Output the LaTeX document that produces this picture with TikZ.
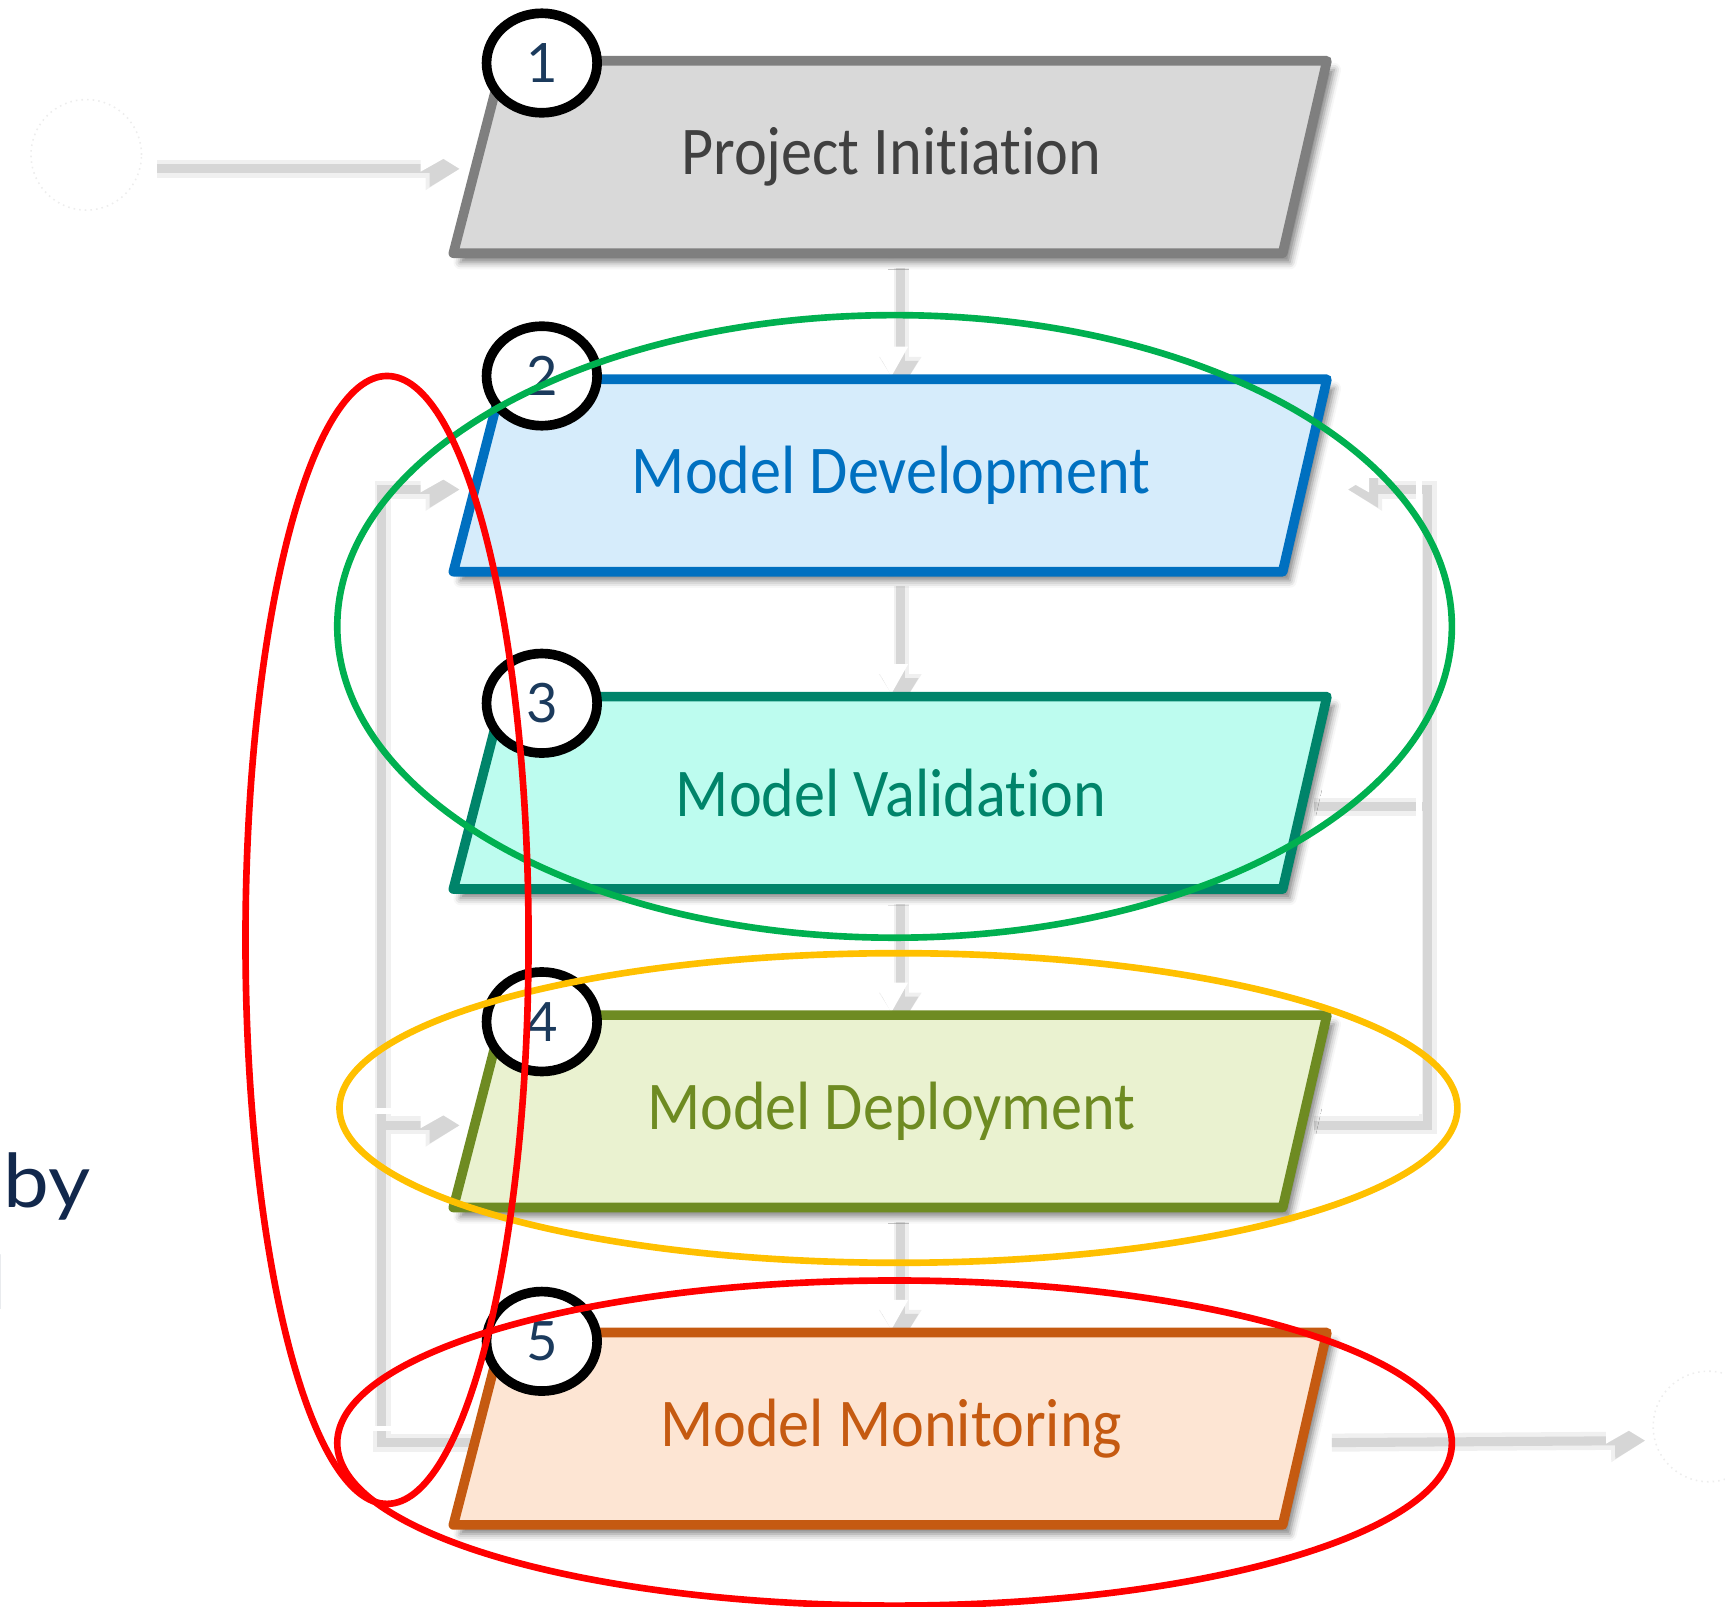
\documentclass[tikz,border=0pt]{standalone}
\usepackage{fontspec}
\setmainfont{Carlito}[Ligatures=NoCommon]
\newfontfamily\numfont{Lato}
\usetikzlibrary{arrows.meta,shapes.geometric,shadows.blur,backgrounds}
\definecolor{piF}{HTML}{D9D9D9}\definecolor{piD}{HTML}{7F7F7F}\definecolor{piT}{HTML}{404040}
\definecolor{mdF}{HTML}{D6ECFB}\definecolor{mdD}{HTML}{0070C0}
\definecolor{mvF}{HTML}{BDFCEF}\definecolor{mvD}{HTML}{00846A}
\definecolor{dpF}{HTML}{EAF2D0}\definecolor{dpD}{HTML}{6E8B22}
\definecolor{mmF}{HTML}{FDE5D3}\definecolor{mmD}{HTML}{C55A11}
\definecolor{navy}{HTML}{1B3A5C}\definecolor{sidenavy}{HTML}{12284C}
\definecolor{ringG}{HTML}{00B050}\definecolor{ringY}{HTML}{FFC000}\definecolor{ringR}{HTML}{FF0000}
\tikzset{
  boxline/.style={line width=4.8pt, line join=round,
    blur shadow={shadow xshift=3.5pt, shadow yshift=-4.5pt, shadow blur radius=3.5pt, shadow opacity=50}},
  boxnode/.style={inner sep=0pt, minimum width=410.85pt, minimum height=95.7pt,
    font=\fontsize{34pt}{36pt}\selectfont},
  numc/.style={ellipse, draw=black, fill=white, line width=4.8pt, inner sep=0pt,
    minimum width=55pt, minimum height=49.5pt, text=navy,
    font=\numfont\fontsize{27pt}{28pt}\selectfont},
  faintc/.style={circle, draw=black!7, dotted, line width=0.8pt, minimum size=55pt, inner sep=0pt},
  wline/.style={draw=white, line width=2.8pt},
  warrow/.style={wline, -{Triangle[length=15pt,width=16pt,fill=white]}},
  sline/.style={draw=black!16, line width=4.5pt},
  sarrow/.style={sline, -{Triangle[length=15pt,width=17pt]}},
  ring/.style={line width=3.3pt},
  sidetxt/.style={inner sep=0pt, text=sidenavy, font=\numfont\fontsize{37pt}{40pt}\selectfont}
}
\newcommand\pbox[5]{%
  \draw[boxline, fill=#3, draw=#4] (455,#2) -- (1200,#2) -- (1160,#2+174) -- (410,#2+174) -- cycle;
  \node[boxnode, text=#4] (#1) at (806,#2+87) {\scalebox{0.91}[1]{#5}};}
\newcommand\conns[2]{%
  \draw[#2, shorten <=2.75pt, shorten >=13.5pt] (start.east) -- (start.east -| pi.west);
  \draw[#2, shorten >=1pt] (pi.south) -- (md.north);
  \draw[#2, shorten >=1pt] (md.south) -- (mv.north);
  \draw[#2, shorten >=1pt] (mv.south) -- (dp.north);
  \draw[#2, shorten >=1pt] (dp.south) -- (mm.north);
  \draw[#2, shorten >=13.5pt] (mm.west) -- (lb) |- (md.west);
  \draw[#2, shorten >=13.5pt] (lb) |- (dp.west);
  \draw[#2, shorten >=17pt] (dp.east) -- (rb) |- (md.east);
  \draw[#1] (mv.east) -- (mv.east -| rb);
  \draw[#2, shorten <=9pt, shorten >=8pt] (mm.east) -- (fin.west);
}
\begin{document}
\begin{tikzpicture}[x=0.55pt,y=-0.55pt]
\useasboundingbox (0,0) rectangle (1560,1452.4);
% faint end circles
\node[faintc] (start) at (78,140) {};
\node[faintc] (fin) at (1545,1290) {};
% boxes
\pbox{pi}{55}{piF}{piD}{\textcolor{piT}{Project Initiation}}
\pbox{md}{343}{mdF}{mdD}{Model Development}
\pbox{mv}{630}{mvF}{mvD}{Model Validation}
\pbox{dp}{918}{dpF}{dpD}{Model Deployment}
\pbox{mm}{1205}{mmF}{mmD}{Model Monitoring}
\coordinate (lb) at (337,1292);
\coordinate (rb) at (1283,1005);
% connectors behind the boxes
\begin{pgfonlayer}{background}
  \begin{scope}[transform canvas={shift={(4.5pt,-7pt)}}]
    \conns{sline, draw=black!6, line width=9pt}{sline, draw=black!6, line width=9pt, -{Triangle[length=17pt,width=20pt]}}
    \conns{sline}{sarrow}
  \end{scope}
  \conns{wline}{warrow}
\end{pgfonlayer}
% number circles
\node[numc] (n1) at (490,57) {1};
\node[numc] (n2) at (490,340) {2};
\node[numc] (n3) at (490,636) {3};
\node[numc] (n4) at (490,924) {4};
\node[numc] (n5) at (490,1213) {5};
% cut-off side text
\node[sidetxt, anchor=base east] (by) at (82,1092) {\scalebox{1.1}[1]{by}};
\node[sidetxt, anchor=base east] (ltr) at (6,1184) {l};
% highlight rings
\draw[ring, draw=ringG] (809,566.5) ellipse [x radius=504, y radius=281.5];
\draw[ring, draw=ringY] (812.5,1002) ellipse [x radius=505.5, y radius=140];
\draw[ring, draw=ringR] (809,1305) ellipse [x radius=504, y radius=147];
\draw[ring, draw=ringR] (350,850) ellipse [x radius=128, y radius=510];
\end{tikzpicture}
\end{document}
